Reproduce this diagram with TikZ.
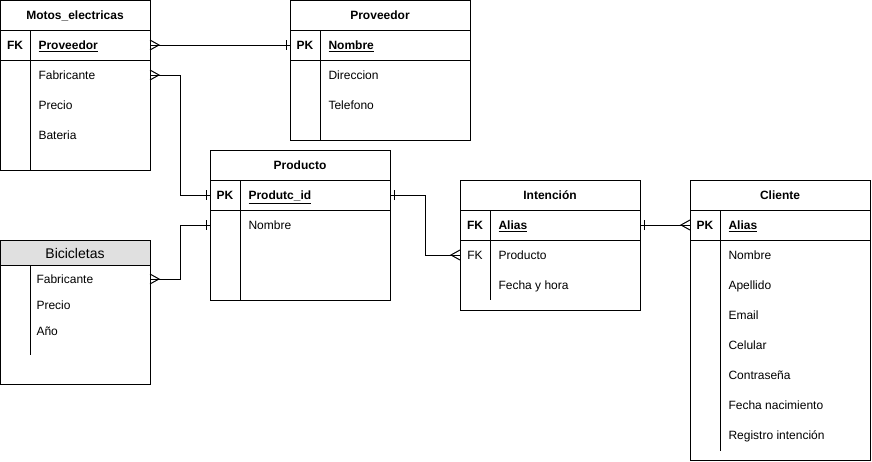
\documentclass[tikz,border=0pt]{standalone}
\usepackage{fontspec}
\setmainfont{Liberation Sans}
\usetikzlibrary{arrows.meta}
\pgfdeclarearrow{
  name=crowfoot,
  setup code={\pgfarrowssettipend{0pt}\pgfarrowssetlineend{0pt}\pgfarrowssetbackend{-9pt}%
    \pgfarrowshullpoint{0pt}{5pt}\pgfarrowshullpoint{0pt}{-5pt}\pgfarrowshullpoint{-9pt}{0pt}},
  drawing code={\pgfpathmoveto{\pgfpoint{0pt}{5pt}}\pgfpathlineto{\pgfpoint{-9pt}{0pt}}%
    \pgfpathlineto{\pgfpoint{0pt}{-5pt}}\pgfusepathqstroke}
}
\pgfdeclarearrow{
  name=onebar,
  setup code={\pgfarrowssettipend{0pt}\pgfarrowssetlineend{0pt}\pgfarrowssetbackend{-5pt}%
    \pgfarrowshullpoint{-4pt}{5pt}\pgfarrowshullpoint{-4pt}{-5pt}\pgfarrowshullpoint{0pt}{0pt}},
  drawing code={\pgfpathmoveto{\pgfpoint{-4pt}{5pt}}\pgfpathlineto{\pgfpoint{-4pt}{-5pt}}\pgfusepathqstroke}
}
\begin{document}
\begin{tikzpicture}[x=1pt,y=-1pt,line width=1pt,
  tbl/.style={draw,anchor=north west,inner sep=0pt,outer sep=0pt},
  hdr/.style={font=\bfseries\fontsize{12}{14}\selectfont,inner sep=0pt,anchor=base,yshift=-4.9pt},
  keyt/.style={font=\bfseries\fontsize{12}{14}\selectfont,inner sep=0pt,anchor=base,yshift=-4.9pt},
  txt/.style={font=\fontsize{12}{14}\selectfont,anchor=base west,inner sep=0pt,yshift=-4.9pt},
  conn/.style={draw,line width=1pt}]
\useasboundingbox (0,0) rectangle (872,461);
\definecolor{hdrgray}{HTML}{E0E0E0}

% Motos_electricas
\node[tbl,minimum width=150pt,minimum height=170pt] (moto) at (0,0) {};
\draw (0,30) -- (150,30) (0,60) -- (150,60) (30,30) -- (30,170);
\node[hdr] (motoh) at (75,15) {Motos\_electricas};
\node[keyt] (mk) at (15,45) {FK};
\node[txt,font=\bfseries\fontsize{12}{14}\selectfont] (mprov) at (38,45) {\underline{Proveedor}};
\node[txt] (mfab) at (38,75) {Fabricante};
\node[txt] (mpre) at (38,105) {Precio};
\node[txt] (mbat) at (38,135) {Bateria};

% Proveedor
\node[tbl,minimum width=180pt,minimum height=140pt] (prov) at (290,0) {};
\draw (290,30) -- (470,30) (290,60) -- (470,60) (320,30) -- (320,140);
\node[hdr] (provh) at (380,15) {Proveedor};
\node[keyt] (pk1) at (305,45) {PK};
\node[txt,font=\bfseries\fontsize{12}{14}\selectfont] (pnom) at (328,45) {\underline{Nombre}};
\node[txt] (pdir) at (328,75) {Direccion};
\node[txt] (ptel) at (328,105) {Telefono};

% Producto
\node[tbl,minimum width=180pt,minimum height=150pt] (prod) at (210,150) {};
\draw (210,180) -- (390,180) (210,210) -- (390,210) (240,180) -- (240,300);
\node[hdr] (prodh) at (300,165) {Producto};
\node[keyt] (pk2) at (225,195) {PK};
\node[txt,font=\bfseries\fontsize{12}{14}\selectfont] (pid) at (248,195) {\underline{Produtc\_id}};
\node[txt] (pnombre) at (248,225) {Nombre};

% Intencion
\node[tbl,minimum width=180pt,minimum height=130pt] (int) at (460,180) {};
\draw (460,210) -- (640,210) (460,240) -- (640,240) (490,210) -- (490,300);
\node[hdr] (inth) at (550,195) {Intención};
\node[keyt] (ik1) at (475,225) {FK};
\node[txt,font=\bfseries\fontsize{12}{14}\selectfont] (ialias) at (498,225) {\underline{Alias}};
\node[keyt,font=\fontsize{12}{14}\selectfont] (ik2) at (475,255) {FK};
\node[txt] (iprod) at (498,255) {Producto};
\node[txt] (ifh) at (498,285) {Fecha y hora};

% Cliente
\node[tbl,minimum width=180pt,minimum height=280pt] (cli) at (690,180) {};
\draw (690,210) -- (870,210) (690,240) -- (870,240) (720,210) -- (720,451);
\node[hdr] (clih) at (780,195) {Cliente};
\node[keyt] (ck) at (705,225) {PK};
\node[txt,font=\bfseries\fontsize{12}{14}\selectfont] (calias) at (728,225) {\underline{Alias}};
\node[txt] (c1) at (728,255) {Nombre};
\node[txt] (c2) at (728,285) {Apellido};
\node[txt] (c3) at (728,315) {Email};
\node[txt] (c4) at (728,345) {Celular};
\node[txt] (c5) at (728,375) {Contraseña};
\node[txt] (c6) at (728,405) {Fecha nacimiento};
\node[txt] (c7) at (728,435) {Registro intención};

% Bicicletas
\node[tbl,minimum width=150pt,minimum height=144pt] (bici) at (0,240) {};
\fill[hdrgray] (0.5,240.5) rectangle (149.5,265);
\draw (0,240) rectangle (150,384);
\draw (0,265) -- (150,265) (30,265) -- (30,355);
\node[font=\fontsize{14}{16}\selectfont,inner sep=0pt,anchor=base,yshift=-5.4pt] (bicih) at (75,253) {Bicicletas};
\node[txt] (bfab) at (36,279) {Fabricante};
\node[txt] (bpre) at (36,305) {Precio};
\node[txt] (bano) at (36,331) {Año};

% row-centre points of the linked rows
\coordinate (kmprov) at ([yshift=4.9pt]mprov.base);
\coordinate (kmfab) at ([yshift=4.9pt]mfab.base);
\coordinate (kpnom) at ([yshift=4.9pt]pnom.base);
\coordinate (kpid) at ([yshift=4.9pt]pid.base);
\coordinate (kpnombre) at ([yshift=4.9pt]pnombre.base);
\coordinate (kbfab) at ([yshift=4.9pt]bfab.base);
\coordinate (kiprod) at ([yshift=4.9pt]iprod.base);
\coordinate (kialias) at ([yshift=4.9pt]ialias.base);
\coordinate (kcalias) at ([yshift=4.9pt]calias.base);

% Connectors
\draw[conn,{crowfoot}-{onebar}] (moto.east |- kmprov) -- (prov.west |- kpnom);
\draw[conn,{crowfoot}-{onebar}] (moto.east |- kmfab) -- ++(30,0) |- (prod.west |- kpid);
\draw[conn,{crowfoot}-{onebar}] (bici.east |- kbfab) -- ++(30,0) |- (prod.west |- kpnombre);
\draw[conn,{onebar}-{crowfoot}] (prod.east |- kpid) -- ++(35,0) |- (int.west |- kiprod);
\draw[conn,{onebar}-{crowfoot}] (int.east |- kialias) -- (cli.west |- kcalias);
\end{tikzpicture}
\end{document}
